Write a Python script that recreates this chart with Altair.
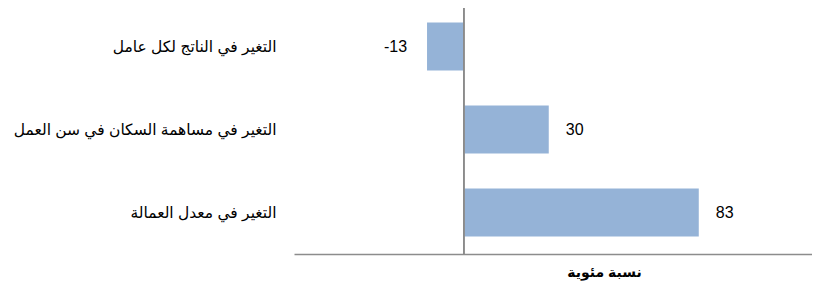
import altair as alt
import pandas as pd

categories = ["التغير في الناتج لكل عامل", "التغير في مساهمة السكان في سن العمل", "التغير في معدل العمالة"]
values = [-13, 30, 83]
value_labels = ["-13", "30", "83"]
x_title = "نسبة مئوية"

df = pd.DataFrame({"cat": categories, "val": values, "lab": value_labels})
FONT = "Arial, Liberation Sans, DejaVu Sans"

y_enc = alt.Y("cat:N", sort=categories,
              scale=alt.Scale(range=[-3, 246], paddingInner=0.42, paddingOuter=0.21),
              axis=alt.Axis(title=None, domain=False, ticks=False, labelPadding=18,
                            labelFontSize=15.5, labelFont=FONT, labelColor="black",
                            labelLimit=400))
x_scale = alt.Scale(domain=[-60, 123], nice=False, zero=False)

bars = alt.Chart(df).mark_bar(color="#95B3D7").encode(
    x=alt.X("val:Q", scale=x_scale,
            axis=alt.Axis(title=x_title, labels=False, ticks=False, grid=False,
                          domainColor="#8c8c8c", domainWidth=1.5,
                          titleFont=FONT, titleFontSize=14, titleFontWeight="bold",
                          titleColor="black", titleX=310, titleY=18,
                          titleBaseline="middle", titleAlign="center", titleAnchor="start")),
    x2=alt.datum(0),
    y=y_enc,
)

zero_rule = alt.Chart(df).mark_rule(color="#8c8c8c", strokeWidth=1.5).encode(
    x=alt.datum(0), y=alt.value(-3), y2=alt.value(246)
)

pos_text = alt.Chart(df).transform_filter("datum.val >= 0").mark_text(
    align="left", baseline="middle", dx=17, fontSize=16, font=FONT, color="black"
).encode(x=alt.X("val:Q", scale=x_scale), y=alt.Y("cat:N", sort=categories), text="lab:N")

neg_text = alt.Chart(df).transform_filter("datum.val < 0").mark_text(
    align="right", baseline="middle", dx=-20, fontSize=16, font=FONT, color="black"
).encode(x=alt.X("val:Q", scale=x_scale), y=alt.Y("cat:N", sort=categories), text="lab:N")

chart = alt.layer(bars, zero_rule, pos_text, neg_text).properties(
    width=518, height=246,
    autosize=alt.AutoSizeParams(type="none"),
    padding={"left": 286, "top": 0, "right": 0, "bottom": 30},
).configure_view(stroke=None).configure_axis(grid=False)

chart.save("out.html", embed_options={"renderer": "svg", "actions": False})
